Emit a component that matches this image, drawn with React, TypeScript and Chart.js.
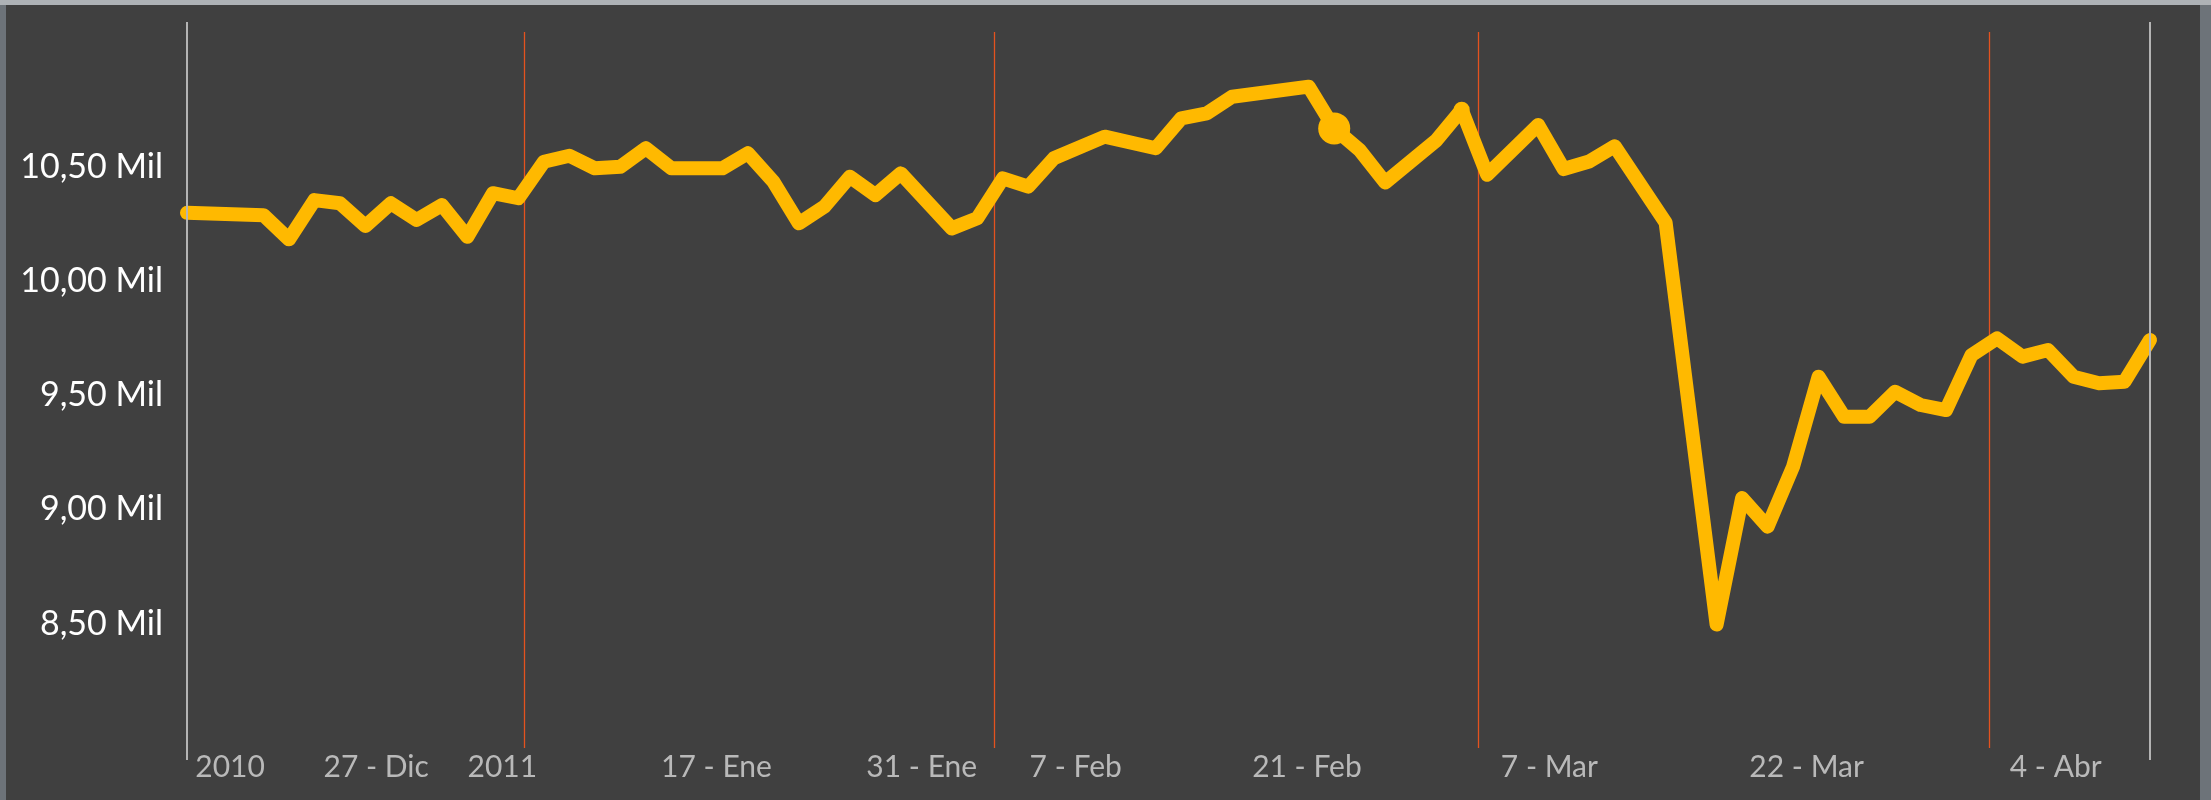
import React, { useEffect, useRef } from 'react';
import { Chart, registerables } from 'chart.js';

Chart.register(...registerables);

// Trading-day index (0 = first session shown) of each visible vertex of the line
const dayIndex = [
  0, 3, 4, 5, 6, 7, 8, 9, 10, 11, 12, 13, 14, 15, 16, 17, 18, 19, 21, 22, 23, 24, 25, 26, 27, 28,
  30, 31, 32, 33, 34, 36, 38, 39, 40, 41, 44, 45, 46, 47, 49, 50, 51, 53, 54, 55, 56, 58,
  60, 61, 62, 63, 64, 65, 66, 67, 68, 69, 70, 71, 72, 73, 74, 75, 76, 77,
];

// Index level, in thousands ("Mil")
const indexValues = [
  10.30, 10.29, 10.184, 10.356, 10.342, 10.242, 10.342, 10.269, 10.334, 10.195, 10.386, 10.364, 10.524, 10.55,
  10.495, 10.502, 10.583, 10.495, 10.495, 10.561, 10.437, 10.254, 10.327, 10.458, 10.378, 10.473,
  10.232, 10.276, 10.451, 10.415, 10.539, 10.634, 10.583, 10.714, 10.736, 10.809, 10.853, 10.67, 10.575, 10.433,
  10.617, 10.752, 10.467, 10.685, 10.492, 10.525, 10.592, 10.257,
  8.496, 9.05, 8.925, 9.188, 9.582, 9.407, 9.407, 9.516, 9.458, 9.436, 9.677, 9.75, 9.67, 9.699, 9.582, 9.553, 9.56, 9.743,
];

const xTickPositions = [1.69, 7.42, 12.37, 20.77, 28.82, 34.86, 43.93, 53.44, 63.53, 73.3];
const xTickLabels = ['2010', '27 - Dic', '2011', '17 - Ene', '31 - Ene', '7 - Feb', '21 - Feb', '7 - Mar', '22 - Mar', '4 - Abr'];
const yTickValues = [8.5, 9, 9.5, 10, 10.5];
const monthBoundaries = [13.2, 31.65, 50.65, 70.67];
const bigMarkerDay = 45;
const smallMarkerDay = 50;

const X_MIN = 0;
const X_MAX = 77;
const Y_MIN = 7.955;
const Y_MAX = 11.0925;

const LINE_COLOR = '#FFB900';

const decorPlugin = {
  id: 'decor',
  beforeDraw(chart: any) {
    const { ctx, width, height } = chart;
    ctx.save();
    ctx.fillStyle = '#6d7379';
    ctx.fillRect(0, 0, width, height);
    ctx.fillStyle = '#aeb2b6';
    ctx.fillRect(0, 0, width, 5);
    ctx.fillStyle = '#404040';
    ctx.fillRect(6, 5, 2194, height - 5);
    ctx.restore();
  },
  beforeDatasetsDraw(chart: any) {
    const { ctx, chartArea, scales } = chart;
    ctx.save();
    ctx.strokeStyle = '#e4531f';
    ctx.lineWidth = 1.3;
    monthBoundaries.forEach((b) => {
      const px = Math.round(scales.x.getPixelForValue(b)) + 0.5;
      ctx.beginPath();
      ctx.moveTo(px, chartArea.top);
      ctx.lineTo(px, chartArea.bottom);
      ctx.stroke();
    });
    ctx.restore();
  },
  afterDatasetsDraw(chart: any) {
    const { ctx, chartArea } = chart;
    ctx.save();
    ctx.strokeStyle = '#b4b4b4';
    ctx.lineWidth = 2;
    [chartArea.left, chartArea.right].forEach((px: number) => {
      ctx.beginPath();
      ctx.moveTo(px, chartArea.top - 10);
      ctx.lineTo(px, chartArea.bottom + 12);
      ctx.stroke();
    });
    ctx.restore();
  },
};

export default function App() {
  const canvasRef = useRef<HTMLCanvasElement | null>(null);

  useEffect(() => {
    if (!canvasRef.current) return;
    const points = dayIndex.map((d, i) => ({ x: d, y: indexValues[i] }));
    const chart = new Chart(canvasRef.current, {
      type: 'line',
      data: {
        datasets: [
          {
            data: points,
            borderColor: LINE_COLOR,
            backgroundColor: LINE_COLOR,
            borderWidth: 14,
            borderJoinStyle: 'round',
            borderCapStyle: 'round',
            tension: 0,
            fill: false,
            clip: false,
            pointRadius: (c: any) => (c.raw && c.raw.x === bigMarkerDay ? 16 : c.raw && c.raw.x === smallMarkerDay ? 8 : 0),
            pointBorderWidth: 0,
            pointBackgroundColor: LINE_COLOR,
            pointHoverRadius: 0,
          } as any,
        ],
      },
      options: {
        animation: false,
        responsive: false,
        devicePixelRatio: 1,
        events: [],
        layout: { padding: { top: 32, right: 61, bottom: 0, left: 0 } },
        plugins: {
          legend: { display: false },
          tooltip: { enabled: false },
          title: { display: false },
        },
        scales: {
          x: {
            type: 'linear',
            min: X_MIN,
            max: X_MAX,
            position: 'bottom',
            grid: { display: false, drawTicks: false },
            border: { display: false },
            afterBuildTicks: (scale: any) => {
              scale.ticks = xTickPositions.map((v) => ({ value: v }));
            },
            afterFit: (scale: any) => {
              scale.height = 52;
              scale.paddingLeft = 0;
              scale.paddingRight = 0;
              scale.paddingTop = 0;
              scale.paddingBottom = 0;
            },
            ticks: {
              autoSkip: false,
              maxRotation: 0,
              minRotation: 0,
              padding: 1,
              color: '#b9b9b9',
              font: { family: 'Lato', size: 30 },
              callback: (_v: any, i: number) => xTickLabels[i],
            },
          },
          y: {
            type: 'linear',
            min: Y_MIN,
            max: Y_MAX,
            grid: { display: false, drawTicks: false },
            border: { display: false },
            afterBuildTicks: (scale: any) => {
              scale.ticks = yTickValues.map((v) => ({ value: v }));
            },
            afterFit: (scale: any) => {
              scale.width = 187;
              scale.paddingLeft = 0;
              scale.paddingRight = 0;
              scale.paddingTop = 0;
              scale.paddingBottom = 0;
            },
            ticks: {
              padding: 24,
              color: '#ffffff',
              font: { family: 'Lato', size: 34 },
              callback: (v: any) => Number(v).toFixed(2).replace('.', ',') + ' Mil',
            },
          },
        },
      },
      plugins: [decorPlugin],
    });
    return () => chart.destroy();
  }, []);

  return (
    <div style={{ position: 'absolute', left: 0, top: 0, width: 2211, height: 800, overflow: 'hidden' }}>
      <canvas ref={canvasRef} width={2211} height={800} style={{ display: 'block' }} />
    </div>
  );
}
